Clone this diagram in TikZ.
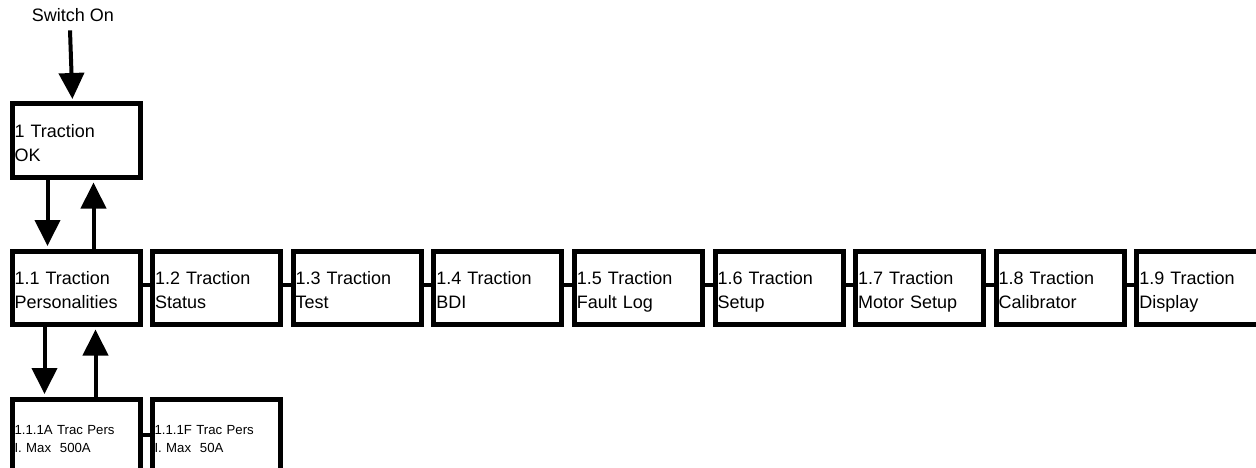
\documentclass[tikz,border=0pt]{standalone}
\usepackage{fontspec}
\setmainfont{Liberation Sans}
\usetikzlibrary{arrows.meta}
\begin{document}
\begin{tikzpicture}[x=1pt,y=-1pt,
  box/.style={draw, line width=5pt, anchor=north west, align=left,
    text width=123pt, inner xsep=2.5pt, inner ysep=0pt, minimum width=128pt,
    minimum height=73.5pt, font=\fontsize{18}{24}\selectfont,
    execute at begin node={\rule{0pt}{22pt}},
    execute at end node={\rule[-4.5pt]{0pt}{4.5pt}}},
  subbox/.style={box, minimum height=71pt, text width=123pt, inner xsep=2.5pt,
    font=\fontsize{13.2}{18}\selectfont,
    execute at begin node={\rule{0pt}{17pt}},
    execute at end node={\rule[-3pt]{0pt}{3pt}}},
  link/.style={line width=4pt},
  arr/.style={line width=4pt, -{Triangle[width=25pt,length=26pt]}, shorten >=2.5pt}]
\clip (0,0) rectangle (1256,468);
\useasboundingbox (0,0) rectangle (1256,468);
\node[anchor=base, font=\fontsize{18}{24}\selectfont, inner sep=0pt] (sw) at (73,22) {Switch On};
\node[box] (b1) at (9.5,101.5) {1 Traction\\OK};
\node[box] (r1) at (9.5,248.5) {1.1 Traction\\Personalities};
\node[box] (r2) at (150.1,248.5) {1.2 Traction\\Status};
\node[box] (r3) at (290.7,248.5) {1.3 Traction\\Test};
\node[box] (r4) at (431.3,248.5) {1.4 Traction\\BDI};
\node[box] (r5) at (571.9,248.5) {1.5 Traction\\Fault Log};
\node[box] (r6) at (712.5,248.5) {1.6 Traction\\Setup};
\node[box] (r7) at (853.1,248.5) {1.7 Traction\\Motor Setup};
\node[box] (r8) at (993.7,248.5) {1.8 Traction\\Calibrator};
\node[box] (r9) at (1134.3,248.5) {1.9 Traction\\Display};
\node[subbox] (s1) at (9.5,396.5) {1.1.1A Trac Pers\\I. Max~~500A};
\node[subbox] (s2) at (149.5,396.5) {1.1.1F Trac Pers\\I. Max~~50A};
\foreach \a/\b in {r1/r2,r2/r3,r3/r4,r4/r5,r5/r6,r6/r7,r7/r8,r8/r9}
  \draw[link] ([yshift=3.25pt]\a.east) -- ([yshift=3.25pt]\b.west);
\draw[link] (s1.east) -- (s2.west);
\draw[arr] ([xshift=-3pt,yshift=-8pt]sw.south) -- ([xshift=-3.5pt]b1.north);
\draw[arr] ([xshift=-28.5pt]b1.south) -- ([xshift=-28.5pt]r1.north);
\draw[arr] ([xshift=17.5pt]r1.north) -- ([xshift=17.5pt]b1.south);
\draw[arr] ([xshift=-31.5pt]r1.south) -- ([xshift=-31.5pt]s1.north);
\draw[arr] ([xshift=19.5pt]s1.north) -- ([xshift=19.5pt]r1.south);
\end{tikzpicture}
\end{document}
